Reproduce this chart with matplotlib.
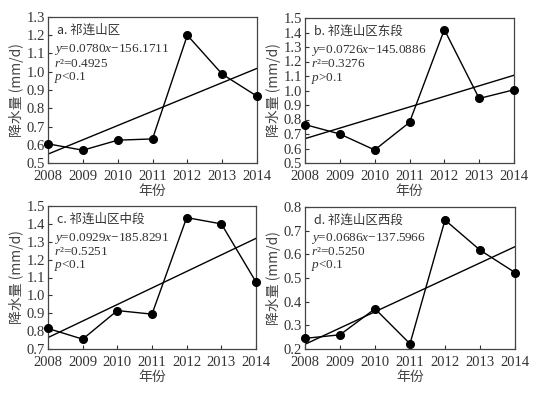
import numpy as np
import matplotlib
matplotlib.use("Agg")
import matplotlib.pyplot as plt

plt.rcParams['font.family'] = ['Liberation Serif', 'Noto Sans CJK SC']
plt.rcParams['mathtext.fontset'] = 'custom'
plt.rcParams['mathtext.rm'] = 'Liberation Serif'
plt.rcParams['mathtext.it'] = 'Liberation Serif:italic'

years = [2008, 2009, 2010, 2011, 2012, 2013, 2014]

precip_a = [0.605, 0.570, 0.625, 0.632, 1.200, 0.987, 0.866]
precip_b = [0.765, 0.700, 0.590, 0.780, 1.420, 0.945, 1.005]
precip_c = [0.815, 0.755, 0.915, 0.895, 1.435, 1.400, 1.075]
precip_d = [0.245, 0.260, 0.370, 0.222, 0.745, 0.618, 0.523]

titles = ['a. 祁连山区', 'b. 祁连山区东段', 'c. 祁连山区中段', 'd. 祁连山区西段']
equations = ['=0.0780$x$\u2212156.1711', '=0.0726$x$\u2212145.0886',
             '=0.0929$x$\u2212185.8291', '=0.0686$x$\u2212137.5966']
r2_values = ['0.4925', '0.3276', '0.5251', '0.5250']
p_texts = ['<0.1', '>0.1', '<0.1', '<0.1']
y_limits = [(0.5, 1.3), (0.5, 1.5), (0.7, 1.5), (0.2, 0.8)]

W, H = 542, 395
fig = plt.figure(figsize=(W / 100, H / 100), dpi=100)

# axes boxes in pixels: left, top, right, bottom
boxes = [(48, 17, 257, 163), (305, 18, 514, 163),
         (48, 206, 256, 349), (305, 207, 515, 349)]

series = [precip_a, precip_b, precip_c, precip_d]
cjk = ['Noto Sans CJK SC', 'Liberation Serif']
txt_col = '#333333'

for i in range(4):
    l, t, r, b = boxes[i]
    ax = fig.add_axes([l / W, 1 - b / H, (r - l) / W, (b - t) / H])
    vals = series[i]

    ax.plot(years, vals, color='black', lw=1.0, marker='o', ms=5.5,
            markerfacecolor='black', zorder=3, clip_on=False)

    k, c0 = np.polyfit(years, vals, 1)
    ax.plot([years[0], years[-1]], [k * years[0] + c0, k * years[-1] + c0],
            color='black', lw=1.0)

    ax.set_xlim(2008, 2014)
    lo, hi = y_limits[i]
    ax.set_ylim(lo, hi)
    yt = np.round(np.arange(lo, hi + 1e-9, 0.1), 1)
    ax.set_yticks(yt)
    ax.set_yticklabels([f'{v:.1f}' for v in yt])
    ax.set_xticks(years)
    ax.tick_params(direction='in', length=3, labelsize=10.5, colors='#333333',
                   labelcolor=txt_col)
    ax.tick_params(axis='x', pad=5)
    ax.tick_params(axis='y', pad=2)
    for s in ax.spines.values():
        s.set_color('#444444')
        s.set_linewidth(0.9)

    ax.set_xlabel('年份', family=cjk, fontsize=10, color='#444444', labelpad=1)
    ax.set_ylabel('降水量 (mm/d)', family=cjk, fontsize=10, color='#444444', labelpad=2)

    ax.text(0.045, 0.91, titles[i], transform=ax.transAxes, family=cjk,
            fontsize=9, color=txt_col, va='center')
    ax.text(0.03, 0.775, '$y$' + equations[i], transform=ax.transAxes,
            fontsize=9.5, color=txt_col, va='center')
    ax.text(0.03, 0.68, '$r$\u00b2=' + r2_values[i], transform=ax.transAxes,
            fontsize=9.5, color=txt_col, va='center')
    ax.text(0.03, 0.585, '$p$' + p_texts[i], transform=ax.transAxes,
            fontsize=9.5, color=txt_col, va='center')

fig.savefig('out.png', dpi=100)
